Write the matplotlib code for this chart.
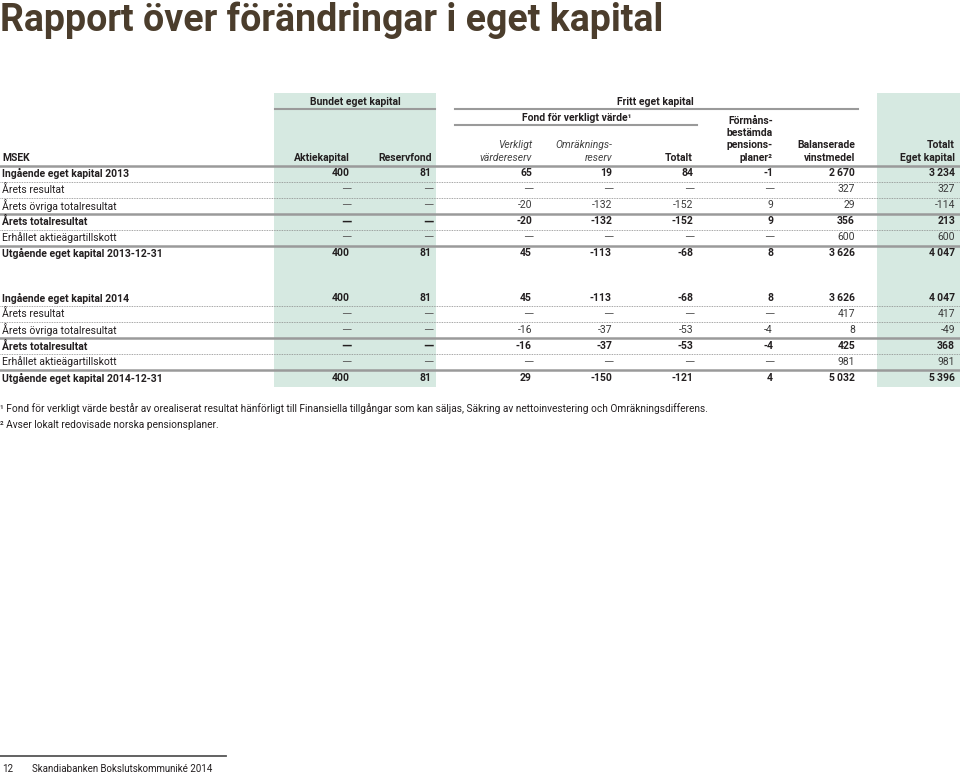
import matplotlib.pyplot as plt

plt.rcParams['font.family'] = ['Roboto', 'DejaVu Sans']

# row labels and data
rows_2013 = ["Ingående eget kapital 2013", "Årets resultat", "Årets övriga totalresultat",
             "Årets totalresultat", "Erhållet aktieägartillskott", "Utgående eget kapital 2013-12-31"]
rows_2014 = ["Ingående eget kapital 2014", "Årets resultat", "Årets övriga totalresultat",
             "Årets totalresultat", "Erhållet aktieägartillskott", "Utgående eget kapital 2014-12-31"]
bold_rows = [True, False, False, True, False, True]

# None = dash
aktiekapital_2013 = [400, None, None, None, None, 400]
reservfond_2013 = [81, None, None, None, None, 81]
verkligt_2013 = [65, None, -20, -20, None, 45]
omrakning_2013 = [19, None, -132, -132, None, -113]
fond_totalt_2013 = [84, None, -152, -152, None, -68]
formans_2013 = [-1, None, 9, 9, None, 8]
balanserade_2013 = [2670, 327, 29, 356, 600, 3626]
totalt_2013 = [3234, 327, -114, 213, 600, 4047]

aktiekapital_2014 = [400, None, None, None, None, 400]
reservfond_2014 = [81, None, None, None, None, 81]
verkligt_2014 = [45, None, -16, -16, None, 29]
omrakning_2014 = [-113, None, -37, -37, None, -150]
fond_totalt_2014 = [-68, None, -53, -53, None, -121]
formans_2014 = [8, None, -4, -4, None, 4]
balanserade_2014 = [3626, 417, 8, 425, 981, 5032]
totalt_2014 = [4047, 417, -49, 368, 981, 5396]

col_right = [350, 432, 532, 612, 693, 773, 855, 955]
txt = "#231f20"
shade = "#d6e9e1"
rule = "#9a9a9a"
fs = 7.5

fig = plt.figure(figsize=(9.6, 7.74), dpi=100)
ax = fig.add_axes([0, 0, 1, 1])
ax.set_xlim(0, 960)
ax.set_ylim(774, 0)
ax.axis("off")

# title
ax.text(0, 20, "Rapport över förändringar i eget kapital", fontsize=27,
        color="#4b3d2c", fontweight="bold", va="center", ha="left",
        family=['Liberation Sans Narrow', 'Roboto'])

# shaded columns
ax.axvspan(274, 436, ymin=(774 - 387) / 774, ymax=(774 - 93) / 774, color=shade, lw=0, zorder=0)
ax.axvspan(877, 960, ymin=(774 - 387) / 774, ymax=(774 - 93) / 774, color=shade, lw=0, zorder=0)

# group headers
ax.text(355, 102, "Bundet eget kapital", fontsize=fs, fontweight="bold", ha="center", va="center", color=txt)
ax.plot([275, 435], [109, 109], color=rule, lw=1.5)
ax.text(655, 102, "Fritt eget kapital", fontsize=fs, fontweight="bold", ha="center", va="center", color=txt)
ax.plot([455, 858], [109, 109], color=rule, lw=1.5)
ax.text(577, 118, "Fond för verkligt värde¹", fontsize=fs, fontweight="bold", ha="center", va="center", color=txt)
ax.plot([455, 697], [125, 125], color=rule, lw=1.5)

# column headers
ax.text(2, 158, "MSEK", fontsize=fs, fontweight="bold", ha="left", va="center", color=txt)
headers = [["Aktiekapital"], ["Reservfond"], ["Verkligt", "värdereserv"], ["Omräknings-", "reserv"],
           ["Totalt"], ["Förmåns-", "bestämda", "pensions-", "planer²"],
           ["Balanserade", "vinstmedel"], ["Totalt", "Eget kapital"]]
italic_cols = [2, 3]
for i, lines in enumerate(headers):
    n = len(lines)
    for j, s in enumerate(lines):
        y = 158 - (n - 1 - j) * 12.5
        if i in italic_cols:
            ax.text(col_right[i], y, s, fontsize=fs, style="italic", ha="right", va="center", color="#444444")
        else:
            ax.text(col_right[i], y, s, fontsize=fs, fontweight="bold", ha="right", va="center", color=txt)
ax.plot([0, 960], [166, 166], color=rule, lw=1.8)


def fmt(v):
    if v is None:
        return "—"
    s = f"{abs(v):,}".replace(",", "\u2009")
    return "-" + s if v < 0 else s


def draw_block(y0, labels, cols):
    ys = [y0 + 16 * k for k in range(6)]
    for k, lab in enumerate(labels):
        w = "bold" if bold_rows[k] else "normal"
        ax.text(2, ys[k], lab, fontsize=fs, fontweight=w, ha="left", va="center", color=txt)
        for c, col in enumerate(cols):
            v = col[k]
            if v is None:
                ax.text(col_right[c] + 1, ys[k] + 0.5, "—", fontsize=9.5, fontweight=w, ha="right", va="center",
                        color=txt if bold_rows[k] else "#666666")
            else:
                ax.text(col_right[c], ys[k], fmt(v), fontsize=fs, fontweight=w, ha="right", va="center",
                        color=txt if bold_rows[k] else "#3a3a3a")
    # separators
    for k in range(5):
        yy = ys[k] + 8
        if k in (2, 4):
            ax.plot([0, 960], [yy, yy], color=rule, lw=1.8)
        else:
            ax.plot([0, 960], [yy, yy], color="#888888", lw=0.6, ls=(0, (1, 1)))


draw_block(173.5, rows_2013, [aktiekapital_2013, reservfond_2013, verkligt_2013, omrakning_2013,
                             fond_totalt_2013, formans_2013, balanserade_2013, totalt_2013])
draw_block(298, rows_2014, [aktiekapital_2014, reservfond_2014, verkligt_2014, omrakning_2014,
                           fond_totalt_2014, formans_2014, balanserade_2014, totalt_2014])

# footnotes
fn_font = ['Liberation Sans Narrow', 'Roboto']
ax.text(0, 409, "¹ Fond för verkligt värde består av orealiserat resultat hänförligt till Finansiella tillgångar som kan säljas, Säkring av nettoinvestering och Omräkningsdifferens.",
        fontsize=7.25, ha="left", va="center", color=txt, family=fn_font)
ax.text(0, 425, "² Avser lokalt redovisade norska pensionsplaner.",
        fontsize=7.25, ha="left", va="center", color=txt, family=fn_font)

# footer
ax.plot([0, 226], [756, 756], color="#555555", lw=1.3)
ax.text(2, 769, "12", fontsize=7, ha="left", va="center", color=txt)
ax.text(32, 769, "Skandiabanken Bokslutskommuniké 2014", fontsize=7, ha="left", va="center", color=txt)

fig.savefig("out.png", dpi=100)
